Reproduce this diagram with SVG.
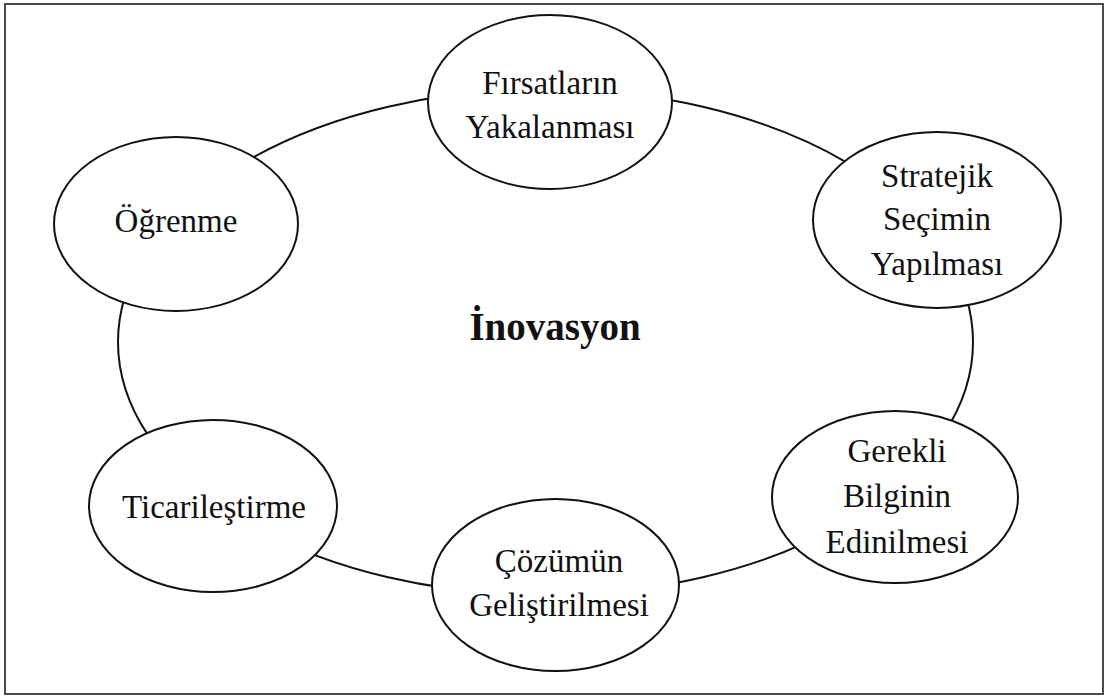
<svg xmlns="http://www.w3.org/2000/svg" width="1110" height="697" viewBox="0 0 1110 697">
<style>
.node{fill:#fff;stroke:#111;stroke-width:2}
.lbl{font-family:"Liberation Serif","Times New Roman",serif;font-size:33px;fill:#111;text-anchor:middle}
.ttl{font-family:"Liberation Serif","Times New Roman",serif;font-size:39px;font-weight:bold;fill:#111;text-anchor:middle}
.conn{fill:none;stroke:#111;stroke-width:2}
</style>
<rect x="0" y="0" width="1110" height="697" fill="#fff"/>
<rect x="5" y="4" width="1098" height="690" fill="none" stroke="#4a4a4a" stroke-width="2"/>
<g id="connectors">
<ellipse class="conn" cx="545.5" cy="342" rx="427.5" ry="253"/>
</g>
<text class="ttl" x="555" y="340">İnovasyon</text>
<g id="firsatlar">
<ellipse class="node" cx="550" cy="102" rx="122" ry="87"/>
<text class="lbl" x="550" y="94">Fırsatların</text>
<text class="lbl" x="550" y="138">Yakalanması</text>
</g>
<g id="stratejik">
<ellipse class="node" cx="937" cy="220" rx="124" ry="88"/>
<text class="lbl" x="937" y="187">Stratejik</text>
<text class="lbl" x="937" y="230">Seçimin</text>
<text class="lbl" x="937" y="275">Yapılması</text>
</g>
<g id="gerekli">
<ellipse class="node" cx="895" cy="497" rx="123" ry="86"/>
<text class="lbl" x="897" y="462">Gerekli</text>
<text class="lbl" x="897" y="507">Bilginin</text>
<text class="lbl" x="897" y="553">Edinilmesi</text>
</g>
<g id="cozumun">
<ellipse class="node" cx="555.5" cy="585" rx="123.5" ry="86"/>
<text class="lbl" x="559" y="572">Çözümün</text>
<text class="lbl" x="559" y="616">Geliştirilmesi</text>
</g>
<g id="ticarilestirme">
<ellipse class="node" cx="213" cy="506" rx="124" ry="86"/>
<text class="lbl" x="214" y="518">Ticarileştirme</text>
</g>
<g id="ogrenme">
<ellipse class="node" cx="176" cy="224" rx="122" ry="87"/>
<text class="lbl" x="176" y="232">Öğrenme</text>
</g>
</svg>
